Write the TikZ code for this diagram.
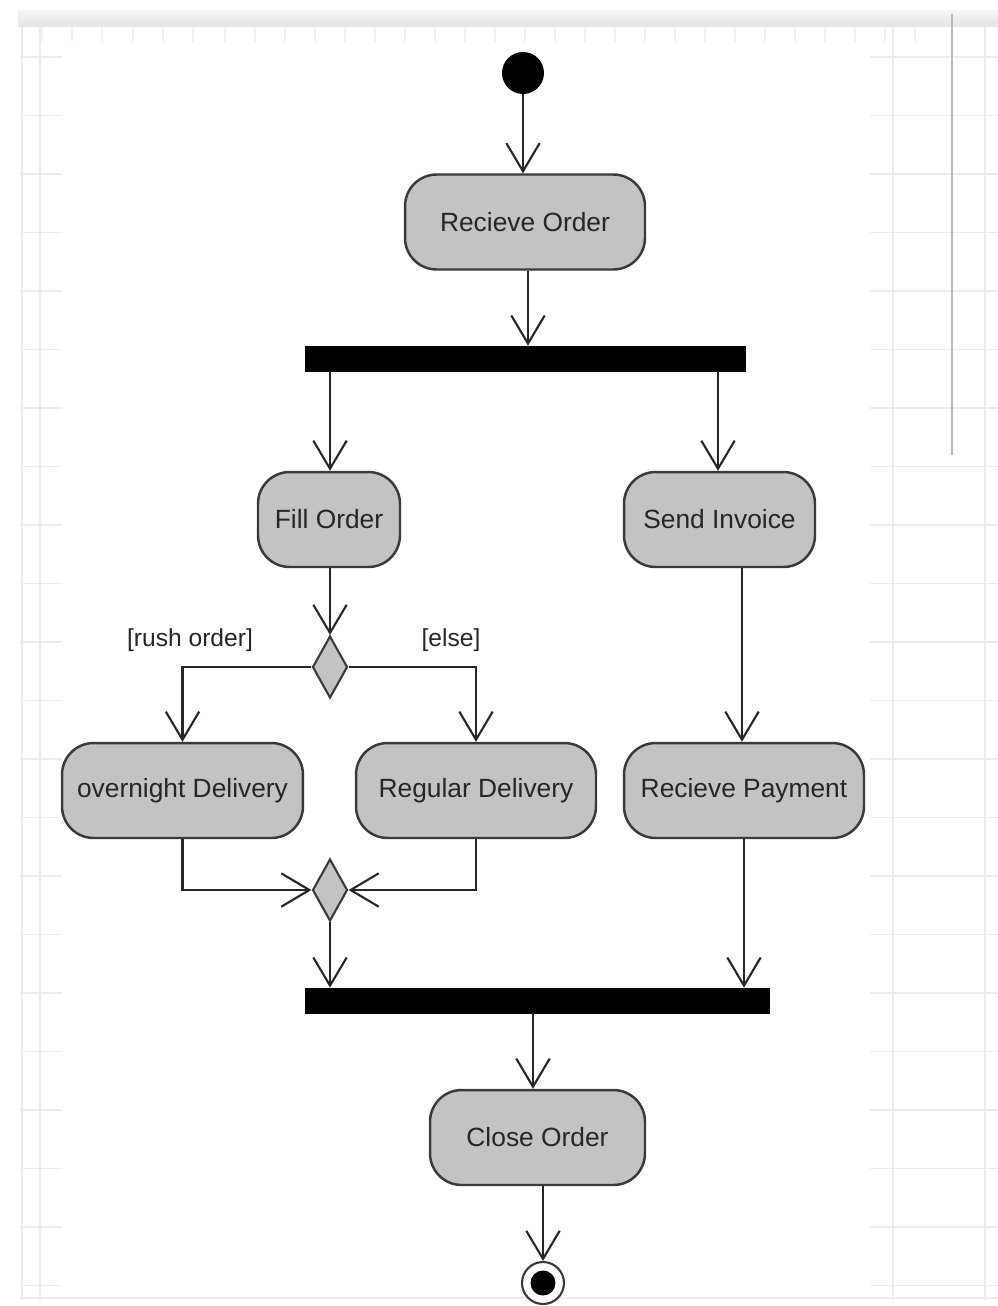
\documentclass[tikz,border=0pt]{standalone}
\usepackage{fontspec}
\setmainfont{Liberation Sans}
\usetikzlibrary{arrows.meta,shapes.geometric}
\definecolor{boxfill}{HTML}{C3C3C3}
\definecolor{boxline}{HTML}{3A3A3A}
\definecolor{ink}{HTML}{262626}
\definecolor{gridc}{HTML}{EDEDED}
\tikzset{
  act/.style={draw=boxline, line width=1.4pt, fill=boxfill, rounded corners=18pt,
    minimum height=1.9cm, inner sep=0pt, text=ink, font=\fontsize{15}{18}\selectfont},
  bar/.style={fill=black, draw=black, inner sep=0pt, minimum height=0.5cm},
  decis/.style={diamond, draw=boxline, line width=1.2pt, fill=boxfill, inner sep=0pt,
    minimum width=0.7cm, minimum height=1.24cm},
  arr/.style={draw=ink, line width=1.2pt, -{Straight Barb[length=16pt,width=19pt,line width=1.2pt]}},
  guard/.style={text=ink, font=\fontsize{14}{17}\selectfont, inner sep=0pt},
}
\begin{document}
\begin{tikzpicture}[x=0.02cm, y=-0.02cm]
\useasboundingbox (0,0) rectangle (998,1306);
\fill[white] (0,0) rectangle (998,1306);
% faint background grid (visible at the margins)
\foreach \yy in {57,115.5,174,232.5,291,349.5,408,466.5,525,583.5,642,700.5,759,817.5,876,934.5,993,1051.5,1110,1168.5,1227,1285.5}{
  \draw[gridc, line width=0.6pt] (20,\yy) -- (62,\yy);
  \draw[gridc, line width=0.6pt] (870,\yy) -- (998,\yy);
}
\foreach \xx in {22,40,893,985}
  \draw[gridc, line width=0.6pt] (\xx,26) -- (\xx,1300);
\foreach \xx in {42,72,102,133,163,193,225,255,285,315,345,375,405,435,465,495,525,555,585,615,645,675,705,735,765,795,825,855,885,915}
  \draw[gray!10, line width=0.6pt] (\xx,26) -- (\xx,42);
\shade[top color=gray!8, bottom color=gray!20] (18,10) rectangle (998,26);
\draw[gridc, line width=0.6pt] (20,1298) -- (998,1298);
\draw[gray!55, line width=1.2pt] (952,14) -- (952,455);
% nodes
\node[circle, fill=black, minimum size=0.84cm, inner sep=0pt] (init) at (523,73) {};
\node[act, minimum width=4.8cm] (rcv) at (525,222) {Recieve Order};
\node[bar, minimum width=8.8cm] (fork) at (525,358.5) {};
\node[act, minimum width=2.84cm] (fill) at (329,519.5) {Fill Order};
\node[act, minimum width=3.82cm] (send) at (719.5,519.5) {Send Invoice};
\node[decis] (dec) at (330,667) {};
\node[guard] (rush) at (190,640) {[rush order]};
\node[guard] (else) at (451,640) {[else]};
\node[act, minimum width=4.82cm] (over) at (182.5,790.5) {overnight Delivery};
\node[act, minimum width=4.8cm] (reg) at (476,790.5) {Regular Delivery};
\node[act, minimum width=4.8cm] (pay) at (744,790.5) {Recieve Payment};
\node[decis] (merge) at (330,890) {};
\node[bar, minimum width=9.28cm] (join) at (537,1000.5) {};
\node[act, minimum width=4.3cm] (close) at (537.5,1137.5) {Close Order};
\node[circle, draw=boxline, line width=1.2pt, fill=white, minimum size=0.84cm, inner sep=0pt] (final) at (543,1283) {};
\node[circle, fill=black, minimum size=0.5cm, inner sep=0pt] (finalin) at (final.center) {};
% connectors
\draw[arr] (init.south) -- (523,0 |- rcv.north);
\draw[arr] (528,0 |- rcv.south) -- (528,0 |- fork.north);
\draw[arr] (330,0 |- fork.south) -- (330,0 |- fill.north);
\draw[arr] (718,0 |- fork.south) -- (718,0 |- send.north);
\draw[arr] (330,0 |- fill.south) -- (dec.north);
\draw[arr] (dec.west) -| (over.north);
\draw[arr] (dec.east) -| (reg.north);
\draw[arr] (742,0 |- send.south) -- (742,0 |- pay.north);
\draw[arr] (over.south) |- (merge.west);
\draw[arr] (reg.south) |- (merge.east);
\draw[arr] (merge.south) -- (330,0 |- join.north);
\draw[arr] (744,0 |- pay.south) -- (744,0 |- join.north);
\draw[arr] (533,0 |- join.south) -- (533,0 |- close.north);
\draw[arr] (543,0 |- close.south) -- (final.north);
\end{tikzpicture}
\end{document}
